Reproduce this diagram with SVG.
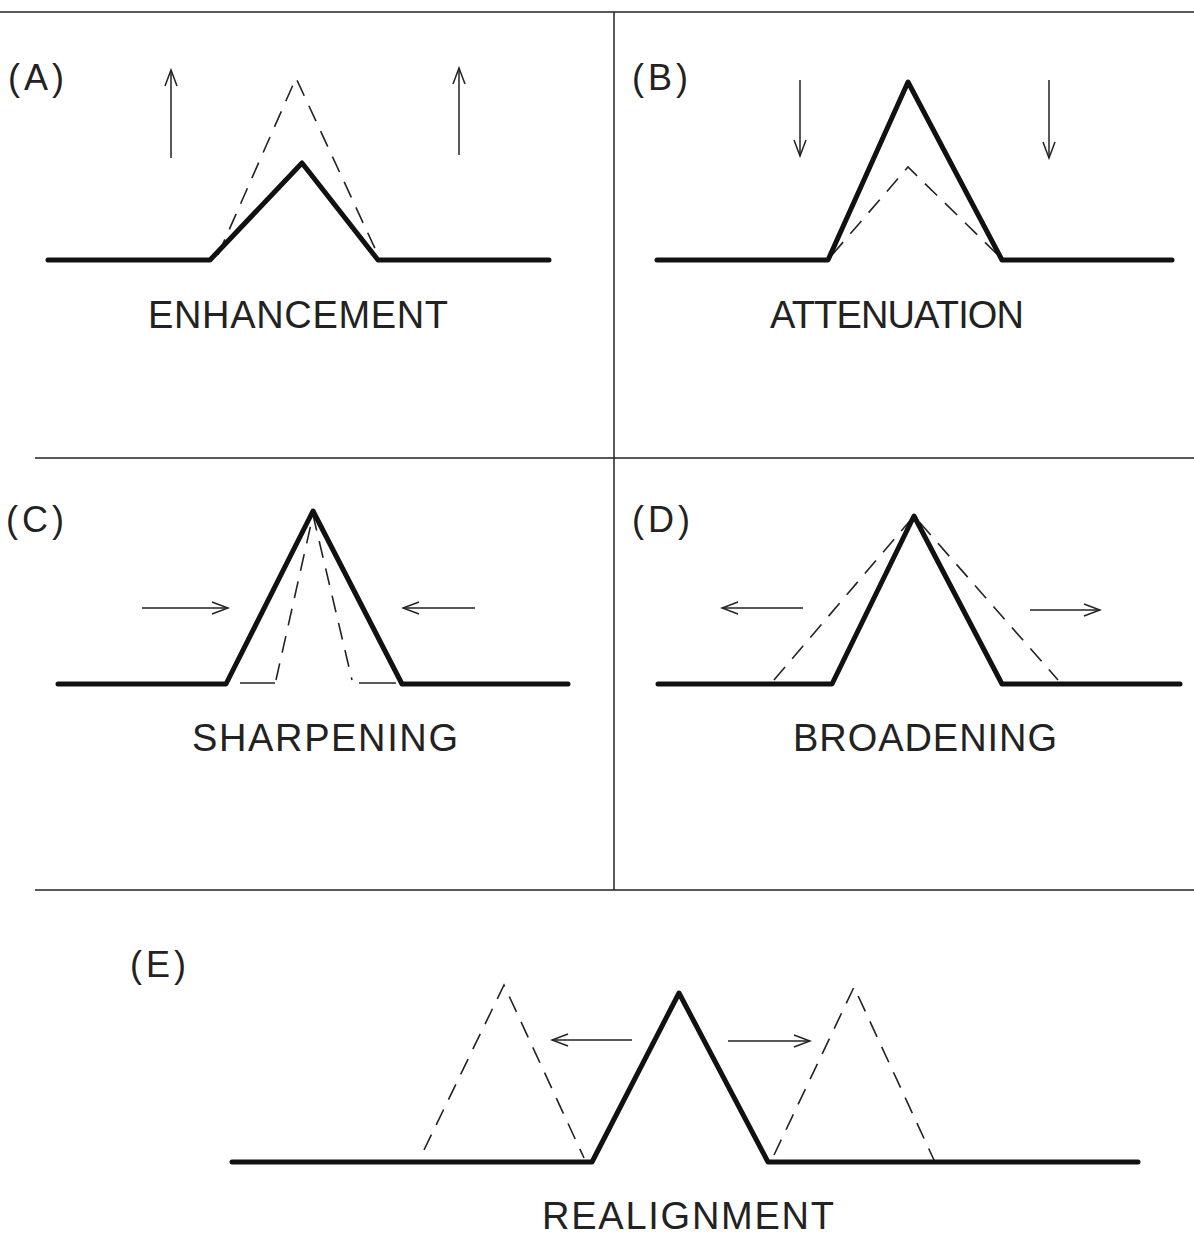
<svg xmlns="http://www.w3.org/2000/svg" width="1194" height="1236" viewBox="0 0 1194 1236">
<style>
.frame{stroke:#222;stroke-width:1.5;fill:none}
.solid{stroke:#111;stroke-width:5;fill:none;stroke-linejoin:round;stroke-linecap:round}
.dash{stroke:#222;stroke-width:1.6;fill:none;stroke-dasharray:17 11}
.arr{stroke:#222;stroke-width:1.5;fill:none;marker-end:url(#ah)}
.lbl{font-family:"Liberation Sans",Arial,sans-serif;font-size:36px;fill:#222;letter-spacing:4px}
.ttl{font-family:"Liberation Sans",Arial,sans-serif;font-size:38px;fill:#222}
</style>
<defs>
<marker id="ah" markerWidth="20" markerHeight="14" refX="18" refY="7" orient="auto" markerUnits="userSpaceOnUse">
<path d="M2,1 L18,7 L2,13" fill="none" stroke="#222" stroke-width="1.5"/>
</marker>
</defs>
<rect width="1194" height="1236" fill="#fff"/>
<g id="frame">
<line class="frame" x1="0" y1="12" x2="1194" y2="12"/>
<line class="frame" x1="614" y1="12" x2="614" y2="890"/>
<line class="frame" x1="35" y1="458" x2="1194" y2="458"/>
<line class="frame" x1="35" y1="890" x2="1194" y2="890"/>
</g>
<g id="panelA">
<text class="lbl" x="8" y="90">(A)</text>
<polyline class="dash" points="218,255 296,78 378,255"/>
<polyline class="solid" points="48,260 210,260 302,163 378,260 549,260"/>
<text class="ttl" x="148" y="328" textLength="300" lengthAdjust="spacing">ENHANCEMENT</text>
</g>
<g id="panelB">
<text class="lbl" x="632" y="90">(B)</text>
<polyline class="dash" points="832,255 908,167 998,255"/>
<polyline class="solid" points="657,260 828,260 908,82 1002,260 1172,260"/>
<text class="ttl" x="770" y="328" textLength="254" lengthAdjust="spacing">ATTENUATION</text>
</g>
<g id="panelC">
<text class="lbl" x="6" y="532">(C)</text>
<polyline class="dash" points="276,680 313,515 352,680"/>
<line class="dash" x1="240" y1="683" x2="275" y2="683" style="stroke-dasharray:none"/>
<line class="dash" x1="359" y1="683" x2="396" y2="683" style="stroke-dasharray:none"/>
<polyline class="solid" points="58,684 226,684 313,511 402,684 568,684"/>
<text class="ttl" x="192" y="751" textLength="266" lengthAdjust="spacing">SHARPENING</text>
</g>
<g id="panelD">
<text class="lbl" x="632" y="532">(D)</text>
<polyline class="dash" points="774,680 914,516 1058,680"/>
<polyline class="solid" points="658,684 832,684 914,516 1002,684 1180,684"/>
<text class="ttl" x="793" y="751" textLength="264" lengthAdjust="spacing">BROADENING</text>
</g>
<g id="panelE">
<text class="lbl" x="130" y="977">(E)</text>
<polyline class="dash" points="424,1150 504,985 584,1158"/>
<polyline class="dash" points="774,1155 854,987 934,1160"/>
<polyline class="solid" points="232,1162 592,1162 679,993 768,1162 1138,1162"/>
<text class="ttl" x="542" y="1229" textLength="292" lengthAdjust="spacing">REALIGNMENT</text>
</g>
<g id="connectors">
<line class="arr" x1="171" y1="158" x2="171" y2="70"/>
<line class="arr" x1="459" y1="155" x2="459" y2="68"/>
<line class="arr" x1="800" y1="80" x2="800" y2="156"/>
<line class="arr" x1="1049" y1="80" x2="1049" y2="158"/>
<line class="arr" x1="142" y1="608" x2="228" y2="608"/>
<line class="arr" x1="475" y1="608" x2="403" y2="608"/>
<line class="arr" x1="803" y1="608" x2="722" y2="608"/>
<line class="arr" x1="1030" y1="610" x2="1100" y2="610"/>
<line class="arr" x1="632" y1="1040" x2="552" y2="1040"/>
<line class="arr" x1="728" y1="1041" x2="810" y2="1041"/>
</g>
</svg>
